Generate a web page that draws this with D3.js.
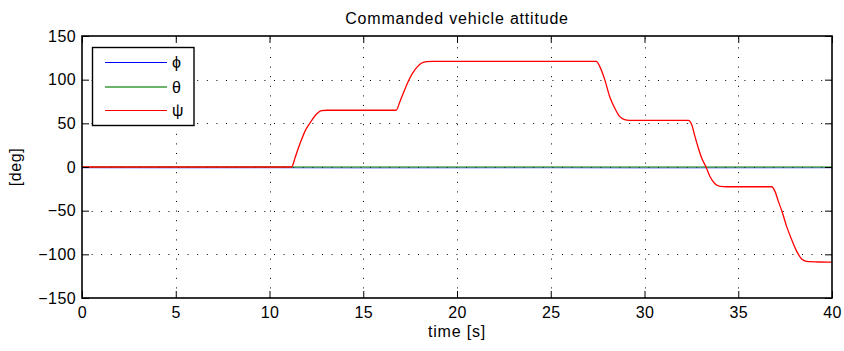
<!DOCTYPE html>
<html>
<head>
<meta charset="utf-8">
<script src="https://cdn.jsdelivr.net/npm/d3@7"></script>
<style>
  html, body { margin: 0; padding: 0; background: #fff; }
  svg { display: block; }
  text { font-family: "Liberation Sans", Arial, Helvetica, sans-serif; fill: #000; }
</style>
</head>
<body>
<svg id="chart" width="844" height="351"></svg>
<script>
// Commanded attitude angles [deg] versus time [s]
const xTicks = [0, 5, 10, 15, 20, 25, 30, 35, 40];
const yTicks = [-150, -100, -50, 0, 50, 100, 150];
const seriesNames = ["\u03d5", "\u03b8", "\u03c8"];
const seriesColors = ["#0000ff", "#008000", "#ff0000"];

// roll command: stays essentially at zero
const phiTime = [0, 5, 10, 15, 20, 25, 30, 35, 40];
const phiValue = [-0.9, -1.0, -0.9, -1.1, -1.0, -0.9, -1.1, -1.0, -0.9];

// pitch command: stays at zero
const thetaTime = [0, 40];
const thetaValue = [0, 0];

// yaw command: a sequence of smooth heading steps
const psiTime = [0, 11.18, 11.36, 11.54, 11.72, 11.89, 12.16, 12.43, 12.60, 12.78, 13.05,
  16.75, 16.96, 17.14, 17.44, 17.76, 18.12, 18.38, 18.7,
  27.43, 27.61, 27.88, 28.14, 28.41, 28.67, 28.94, 29.2, 29.5,
  32.34, 32.52, 32.69, 32.87, 33.05, 33.28, 33.49, 33.76, 34.03, 34.38,
  36.78, 36.96, 37.14, 37.32, 37.58, 37.85, 38.12, 38.38, 38.65, 39.27, 40];
const psiValue = [0, 0, 10.3, 21.8, 32, 40.8, 50.4, 58.7, 62.5, 64.5, 65,
  65, 75.1, 84.7, 100, 111.4, 119.1, 120.6, 121,
  121, 115.2, 100, 80.8, 67.5, 57.9, 54.2, 53.4, 53.3,
  53.3, 48.4, 35, 21.8, 10.3, 0, -10.8, -19.1, -22.2, -22.6,
  -22.6, -27.9, -39.4, -50, -68, -83.2, -96.6, -105.3, -108.1, -108.8, -109];

const svg = d3.select("#chart");
const m = { left: 82, right: 832, top: 36, bottom: 298 };

const x = d3.scaleLinear().domain([0, 40]).range([m.left, m.right]);
const y = d3.scaleLinear().domain([-150, 150]).range([m.bottom, m.top]);

// dotted grid
const grid = svg.append("g");
grid.selectAll("line.gx").data(xTicks.slice(1, -1)).join("line")
  .attr("x1", d => Math.round(x(d)) + 0.5).attr("x2", d => Math.round(x(d)) + 0.5)
  .attr("y1", m.bottom).attr("y2", m.top)
  .attr("stroke", "#000").attr("stroke-width", 1).attr("stroke-dasharray", "1,8.6");
grid.selectAll("line.gy").data(yTicks.slice(1, -1)).join("line")
  .attr("y1", d => Math.round(y(d)) + 0.5).attr("y2", d => Math.round(y(d)) + 0.5)
  .attr("x1", m.left).attr("x2", m.right)
  .attr("stroke", "#000").attr("stroke-width", 1).attr("stroke-dasharray", "1,8.6");

// data lines
const plot = svg.append("g");
const makeLine = (ts, vs) => d3.line().curve(d3.curveMonotoneX)
  .x((d, i) => x(ts[i])).y(d => y(d))(vs);
plot.append("path").attr("d", makeLine(phiTime, phiValue))
  .attr("fill", "none").attr("stroke", seriesColors[0]).attr("stroke-width", 1).attr("opacity", 0.6);
plot.append("path").attr("d", makeLine(thetaTime, thetaValue))
  .attr("fill", "none").attr("stroke", seriesColors[1]).attr("stroke-width", 1.1);
plot.append("path").attr("d", makeLine(psiTime, psiValue))
  .attr("fill", "none").attr("stroke", seriesColors[2]).attr("stroke-width", 1.3);

// axes with inward ticks on all four sides
const tickLen = 7;
const fmt = d => d < 0 ? "\u2212" + Math.abs(d) : String(d);
const axB = svg.append("g").attr("transform", `translate(0,${m.bottom})`)
  .call(d3.axisBottom(x).tickValues(xTicks).tickSizeInner(-tickLen).tickSizeOuter(0).tickPadding(9).tickFormat(fmt));
const axT = svg.append("g").attr("transform", `translate(0,${m.top})`)
  .call(d3.axisTop(x).tickValues(xTicks).tickSizeInner(-tickLen).tickSizeOuter(0).tickFormat(""));
const axL = svg.append("g").attr("transform", `translate(${m.left},0)`)
  .call(d3.axisLeft(y).tickValues(yTicks).tickSizeInner(-tickLen).tickSizeOuter(0).tickPadding(6).tickFormat(fmt));
const axR = svg.append("g").attr("transform", `translate(${m.right},0)`)
  .call(d3.axisRight(y).tickValues(yTicks).tickSizeInner(-tickLen).tickSizeOuter(0).tickFormat(""));
[axB, axT, axL, axR].forEach(a => {
  a.select(".domain").remove();
  a.selectAll(".tick line").attr("stroke", "#000").attr("stroke-width", 1);
  a.selectAll("text").attr("font-size", 16).attr("letter-spacing", 0.4)
    .attr("font-family", "Liberation Sans, Arial, sans-serif");
});

svg.append("rect").attr("x", m.left).attr("y", m.top)
  .attr("width", m.right - m.left).attr("height", m.bottom - m.top)
  .attr("fill", "none").attr("stroke", "#000").attr("stroke-width", 1.6);

// titles
svg.append("text").attr("x", (m.left + m.right) / 2).attr("y", 24)
  .attr("text-anchor", "middle").attr("font-size", 16).attr("letter-spacing", 0.8)
  .text("Commanded vehicle attitude");
svg.append("text").attr("x", (m.left + m.right) / 2).attr("y", 337)
  .attr("text-anchor", "middle").attr("font-size", 16).attr("letter-spacing", 0.8)
  .text("time [s]");
svg.append("text").attr("transform", `translate(21,${(m.top + m.bottom) / 2}) rotate(-90)`)
  .attr("text-anchor", "middle").attr("font-size", 16).attr("letter-spacing", 0.6)
  .text("[deg]");

// legend
const lg = svg.append("g");
lg.append("rect").attr("x", 92.5).attr("y", 47.5).attr("width", 101.5).attr("height", 78)
  .attr("fill", "#fff").attr("stroke", "#000").attr("stroke-width", 1.4);
const rowsY = [62.5, 87, 110.5];
const rowColors = ["#0000ff", "#3a9a3a", "#ff0000"];
seriesNames.forEach((name, i) => {
  lg.append("line").attr("x1", 105).attr("x2", 167).attr("y1", rowsY[i]).attr("y2", rowsY[i])
    .attr("stroke", rowColors[i]).attr("stroke-width", i === 1 ? 1.6 : 1);
  lg.append("text").attr("x", 172).attr("y", rowsY[i]).attr("dy", "0.36em")
    .attr("font-size", 16).text(name);
});
</script>
</body>
</html>
